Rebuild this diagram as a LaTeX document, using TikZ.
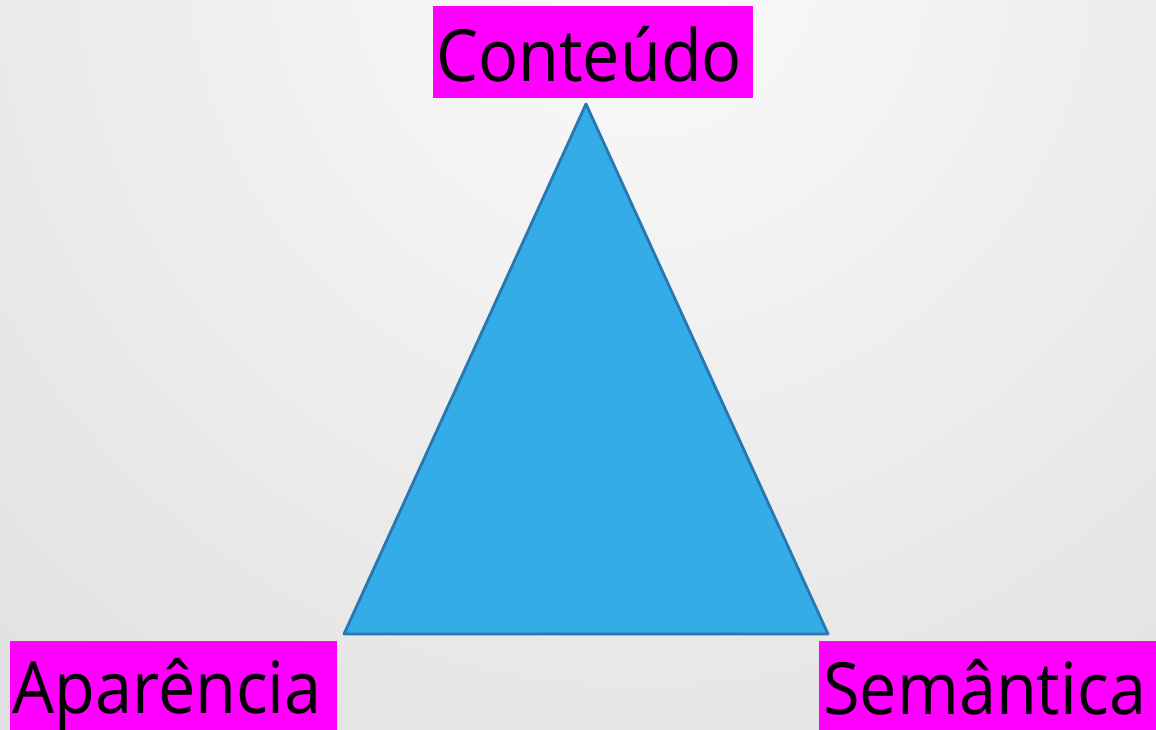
\documentclass[tikz,border=0pt]{standalone}
\usepackage{fontspec}
\setmainfont{Open Sans}
\definecolor{trifill}{HTML}{33ACE8}
\definecolor{triedge}{HTML}{2877B0}
\definecolor{labbg}{HTML}{FF00FF}
\definecolor{bgin}{HTML}{FAFAFA}
\definecolor{bgout}{HTML}{DADADA}
\begin{document}
\begin{tikzpicture}[x=1pt,y=-1pt,
  labbox/.style={fill=labbg, draw=none, inner sep=0pt},
  labtext/.style={anchor=base west, inner sep=0pt, font=\fontsize{72}{80}\selectfont, xscale=0.925}]
\useasboundingbox (0,0) rectangle (1156,730);
\begin{scope}
  \clip (0,0) rectangle (1156,730);
  \shade[inner color=bgin, outer color=bgout] (640,-40) circle (1250);
\end{scope}
% triangle
\coordinate (top) at (586,104);
\coordinate (bl) at (344,634);
\coordinate (br) at (828,634);
\filldraw[fill=trifill, draw=triedge, line width=2.8pt, line join=round] (top) -- (br) -- (bl) -- cycle;
% label boxes
\path[labbox] (433,6) rectangle (753,98);
\path[labbox] (10,641) rectangle (337,730);
\path[labbox] (819,641) rectangle (1156,730);
\node[labtext] (cont) at (436,82) {Conteúdo};
\node[labtext] (apar) at (12,713) {Aparência};
\node[labtext] (sem) at (823,714) {Semântica};
\end{tikzpicture}
\end{document}
